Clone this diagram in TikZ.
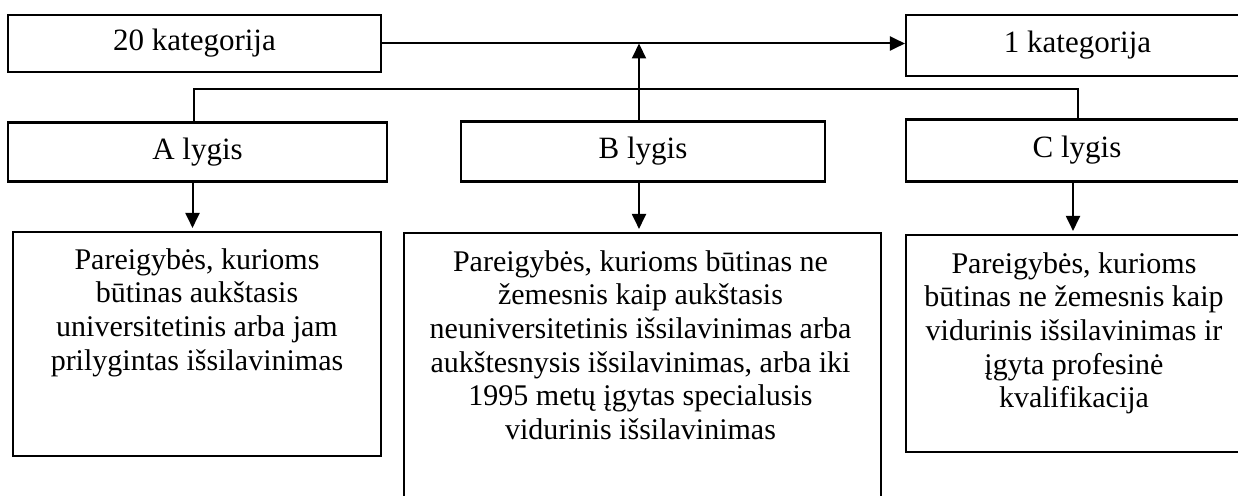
\documentclass[tikz,border=0pt]{standalone}
\usepackage{fontspec}
\setmainfont{Liberation Serif}
\usetikzlibrary{arrows.meta}

\tikzset{
  box/.style={draw, line width=2.1pt, inner sep=0pt, font=\fontsize{31}{36}\selectfont},
  lowbox/.style={draw, line width=2.1pt, inner sep=0pt},
  lowtext/.style={inner sep=0pt, align=center, anchor=north, font=\fontsize{30}{33.6}\selectfont},
  link/.style={line width=2pt},
  arr/.style={link, -{Triangle[length=15pt,width=14pt]}},
}

\begin{document}
\begin{tikzpicture}[x=1pt, y=-1pt]
  \useasboundingbox (0,0) rectangle (1238,495);
  \clip (0,0) rectangle (1238,495);

  % categories
  \node[box, minimum width=373pt, minimum height=57pt] (k20) at (194.5,43.5) {20 kategorija};
  \node[box, minimum width=343pt, minimum height=61pt] (k1) at (1077.5,45.5) {1 kategorija};

  % levels
  \node[box, minimum width=379pt, minimum height=59pt] (Alyg) at (197.5,152) {A lygis};
  \node[box, minimum width=364pt, minimum height=60pt] (Blyg) at (643,151.5) {B lygis};
  \node[box, minimum width=342pt, minimum height=62pt] (Clyg) at (1077,150.5) {C lygis};

  % requirement boxes
  \node[lowbox, minimum width=368pt, minimum height=224pt] (lowA) at (197,344) {};
  \node[lowbox, minimum width=477pt, minimum height=327pt] (lowB) at (642.5,396.5) {};
  \node[lowbox, minimum width=336pt, minimum height=217pt] (lowC) at (1074,343.5) {};

  \node[lowtext] (txtA) at ([yshift=-17.4pt]lowA.north)
    {Pareigybės, kurioms\\ būtinas aukštasis\\ universitetinis arba jam\\ prilygintas išsilavinimas};
  \node[lowtext] (txtB) at ([xshift=-2pt,yshift=-18.4pt]lowB.north)
    {Pareigybės, kurioms būtinas ne\\ žemesnis kaip aukštasis\\ neuniversitetinis išsilavinimas arba\\ aukštesnysis išsilavinimas, arba iki\\ 1995 metų įgytas specialusis\\ vidurinis išsilavinimas};
  \node[lowtext] (txtC) at ([yshift=-18.4pt]lowC.north)
    {Pareigybės, kurioms\\ būtinas ne žemesnis kaip\\ vidurinis išsilavinimas ir\\ įgyta profesinė\\ kvalifikacija};

  % connectors
  \draw[arr] (k20.east) -- (k20.east -| k1.west);
  \coordinate (bus) at (0,89);
  \draw[link] ([xshift=-3.5pt]Alyg.north) -- ([xshift=-3.5pt]Alyg.north |- bus)
    -- ([xshift=1pt]Clyg.north |- bus) -- ([xshift=1pt]Clyg.north);
  \draw[arr] ([xshift=-4pt]Blyg.north) -- ([xshift=-4pt]Blyg.north |- k20.east);

  \draw[arr, shorten >=3pt] ([xshift=-5pt]Alyg.south) -- ([xshift=-5pt]Alyg.south |- lowA.north);
  \draw[arr, shorten >=3pt] ([xshift=-4pt]Blyg.south) -- ([xshift=-4pt]Blyg.south |- lowB.north);
  \draw[arr, shorten >=3pt] ([xshift=-4pt]Clyg.south) -- ([xshift=-4pt]Clyg.south |- lowC.north);
\end{tikzpicture}
\end{document}
